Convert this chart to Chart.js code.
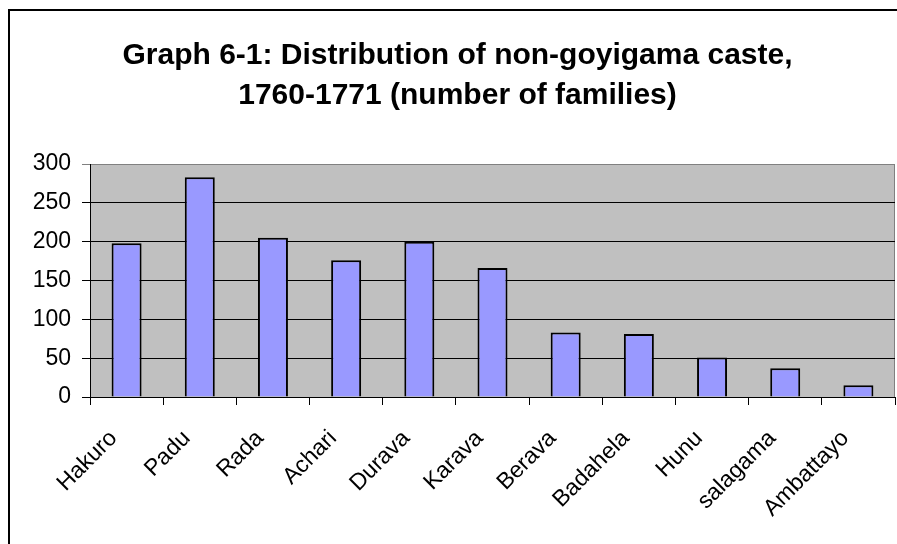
<!DOCTYPE html>
<html>
<head>
<meta charset="utf-8">
<script src="https://cdn.jsdelivr.net/npm/chart.js@4/dist/chart.umd.min.js"></script>
<style>
  html, body { margin: 0; padding: 0; overflow: hidden; background: #fff; width: 897px; height: 544px; }
  #frame { position: absolute; left: 8px; top: 9px; width: 940px; height: 600px;
           border-left: 2px solid #000; border-top: 2px solid #000; box-sizing: border-box; }
  #wrap { position: absolute; left: 0; top: 0; width: 921px; height: 544px; }
</style>
</head>
<body>
<div id="frame"></div>
<div id="wrap"><canvas id="c" width="921" height="544"></canvas></div>
<script>
const titleLines = ["Graph 6-1: Distribution of non-goyigama caste,", "1760-1771 (number of families)"];
const categories = ["Hakuro", "Padu", "Rada", "Achari", "Durava", "Karava", "Berava", "Badahela", "Hunu", "salagama", "Ambattayo"];
const families = [198, 283, 205, 176, 200, 166, 83, 81, 51, 37, 15];
const yTicks = [0, 50, 100, 150, 200, 250, 300];

const FONT = "'Liberation Sans', Arial, sans-serif";

const plotBg = {
  id: 'plotBg',
  beforeDraw(chart) {
    const a = chart.chartArea, ctx = chart.ctx;
    ctx.save();
    ctx.fillStyle = '#C0C0C0';
    ctx.fillRect(a.left, a.top, a.right - a.left, a.bottom - a.top);
    ctx.strokeStyle = '#808080';
    ctx.lineWidth = 1;
    ctx.beginPath();
    ctx.moveTo(a.left, a.top + 0.5);
    ctx.lineTo(a.right - 0.5, a.top + 0.5);
    ctx.lineTo(a.right - 0.5, a.bottom);
    ctx.stroke();
    ctx.restore();
  }
};

new Chart(document.getElementById('c'), {
  type: 'bar',
  data: {
    labels: categories,
    datasets: [{
      data: families,
      backgroundColor: '#9999FF',
      borderColor: '#000000',
      borderWidth: 2,
      borderSkipped: 'bottom',
      barPercentage: 0.41,
      categoryPercentage: 1.0
    }]
  },
  options: {
    responsive: false,
    animation: false,
    events: [],
    layout: { padding: { left: 20, right: 26, top: 0, bottom: 0 } },
    plugins: {
      legend: { display: false },
      tooltip: { enabled: false },
      title: {
        display: true,
        text: titleLines,
        color: '#000',
        font: { family: FONT, size: 30, weight: 'bold', lineHeight: 40 / 30 },
        padding: { top: 36, bottom: 48 }
      }
    },
    scales: {
      x: {
        grid: { display: true, drawOnChartArea: false, drawTicks: true, tickLength: 8, color: '#000', offset: true },
        border: { display: true, color: '#000', width: 1 },
        ticks: {
          color: '#000', font: { family: FONT, size: 23 },
          minRotation: 45, maxRotation: 45, padding: 20, labelOffset: -13, autoSkip: false
        },
        afterFit(scale) { scale.height = 147; }
      },
      y: {
        min: 0, max: 300,
        afterBuildTicks(scale) { scale.ticks = yTicks.map(v => ({ value: v })); },
        grid: {
          color: ctx => (ctx.tick && ctx.tick.value === 300) ? '#808080' : '#000',
          lineWidth: 1, tickLength: 8, drawTicks: true
        },
        border: { display: true, color: '#000', width: 1 },
        ticks: { color: '#000', font: { family: FONT, size: 23 }, padding: 11 },
        afterFit(scale) { scale.width = 70; }
      }
    }
  },
  plugins: [plotBg]
});
</script>
</body>
</html>
